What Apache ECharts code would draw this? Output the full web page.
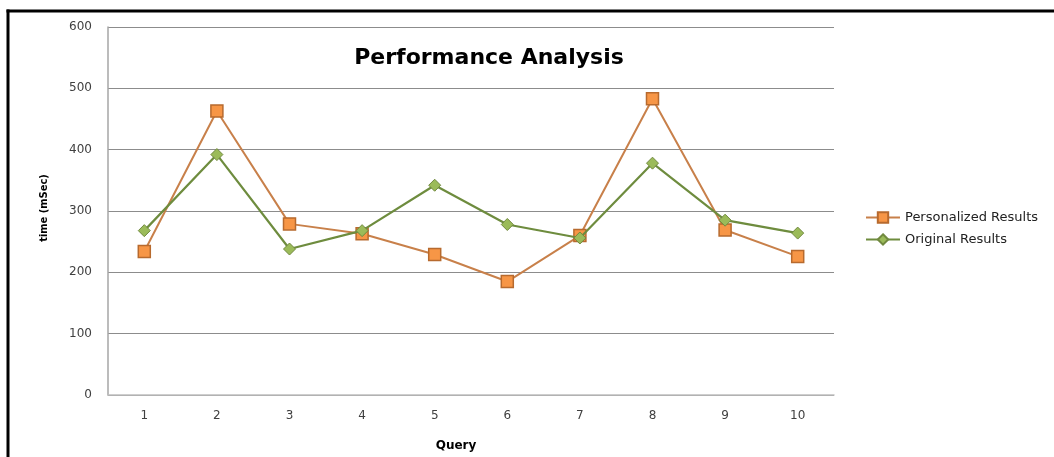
<!DOCTYPE html>
<html>
<head>
<meta charset="utf-8">
<script src="https://cdn.jsdelivr.net/npm/echarts@6/dist/echarts.min.js"></script>
<style>
  html, body { margin: 0; padding: 0; background: #fff; }
  #chart { width: 1054px; height: 457px; }
</style>
</head>
<body>
<div id="chart"></div>
<script>
// Query numbers along the x axis
const queries = ['1', '2', '3', '4', '5', '6', '7', '8', '9', '10'];
// Response times in milliseconds
const personalizedResults = [234, 463, 279, 263, 229, 185, 260, 483, 269, 226];
const originalResults = [268, 392, 238, 268, 342, 278, 256, 378, 285, 264];
// Value axis range and step
const yMin = 0, yMax = 600, yStep = 100;

const chart = echarts.init(document.getElementById('chart'), null, { renderer: 'canvas' });

const labelFont = { fontFamily: 'DejaVu Sans', fontSize: 12, color: '#404040' };

chart.setOption({
  animation: false,
  backgroundColor: '#ffffff',
  title: {
    text: 'Performance Analysis',
    left: 484,
    top: 42,
    textAlign: 'center',
    textStyle: { fontFamily: 'DejaVu Sans', fontWeight: 'bold', fontSize: 22, color: '#000000' }
  },
  legend: {
    orient: 'vertical',
    left: 860,
    top: 206,
    itemGap: 9,
    itemWidth: 34,
    itemHeight: 13,
    textStyle: { fontFamily: 'DejaVu Sans', fontSize: 13, color: '#222222' },
    data: ['Personalized Results', 'Original Results']
  },
  grid: { left: 108, top: 27, right: 220, bottom: 58, containLabel: false },
  xAxis: {
    type: 'category',
    data: queries,
    boundaryGap: true,
    name: 'Query',
    nameLocation: 'middle',
    nameGap: 45,
    nameTextStyle: { fontFamily: 'DejaVu Sans', fontWeight: 'bold', fontSize: 12, color: '#000', padding: [0, 30, 0, 0] },
    axisLine: { lineStyle: { color: '#bfbfbf', width: 1.5 } },
    axisTick: { show: false },
    axisLabel: Object.assign({ margin: 15 }, labelFont)
  },
  yAxis: {
    type: 'value',
    min: yMin,
    max: yMax,
    interval: yStep,
    name: 'time (mSec)',
    nameLocation: 'middle',
    nameRotate: 90,
    nameGap: 58,
    nameTextStyle: { fontFamily: 'DejaVu Sans Condensed, Liberation Sans', fontWeight: 'bold', fontSize: 11, color: '#000', padding: [0, 0, 0, 6] },
    axisLine: { show: true, lineStyle: { color: '#a6a6a6', width: 1.5 } },
    axisTick: { show: false },
    axisLabel: Object.assign({ margin: 16 }, labelFont),
    splitLine: { lineStyle: { color: '#8c8c8c', width: 1 } }
  },
  series: [
    {
      name: 'Personalized Results',
      type: 'line',
      data: personalizedResults,
      symbol: 'rect',
      symbolSize: 12,
      lineStyle: { color: '#c8804a', width: 2 },
      itemStyle: { color: '#f79646', borderColor: '#b76a2e', borderWidth: 1.5 },
      z: 3
    },
    {
      name: 'Original Results',
      type: 'line',
      data: originalResults,
      symbol: 'diamond',
      symbolSize: 12,
      lineStyle: { color: '#6e8c3e', width: 2.2 },
      itemStyle: { color: '#9bbb59', borderColor: '#71893f', borderWidth: 1 },
      z: 4
    }
  ],
  graphic: [
    { type: 'line', shape: { x1: 8, y1: 9.5, x2: 8, y2: 457 }, style: { stroke: '#000', lineWidth: 3 }, silent: true },
    { type: 'line', shape: { x1: 6.5, y1: 11, x2: 1054, y2: 11 }, style: { stroke: '#000', lineWidth: 3 }, silent: true }
  ]
});
</script>
</body>
</html>
